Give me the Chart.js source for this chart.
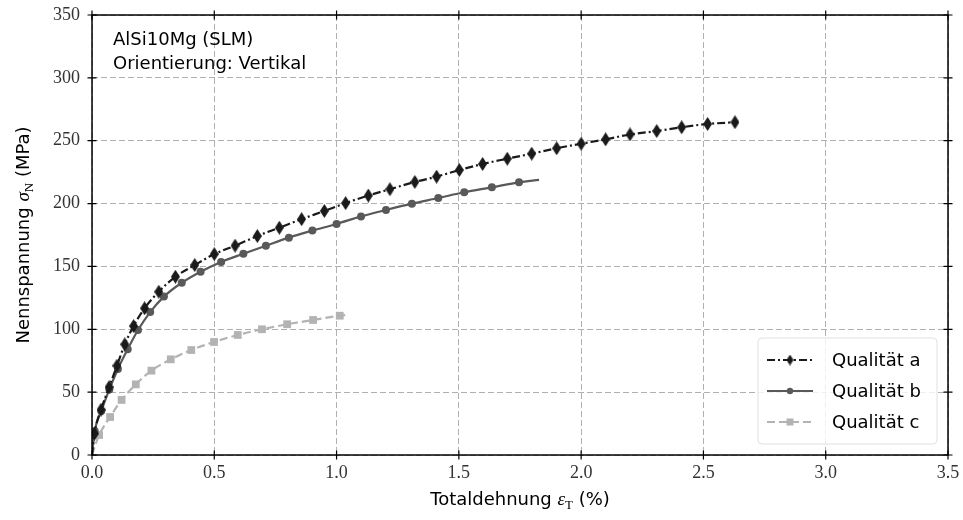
<!DOCTYPE html>
<html>
<head>
<meta charset="utf-8">
<script src="https://cdn.jsdelivr.net/npm/chart.js@4.4.0/dist/chart.umd.min.js"></script>
<style>
  html, body { margin: 0; padding: 0; background: #fff; }
</style>
</head>
<body>
<canvas id="chart" width="963" height="520"></canvas>
<script>
// tick values
var xTicks = [0, 0.5, 1.0, 1.5, 2.0, 2.5, 3.0, 3.5];
var yTicks = [0, 50, 100, 150, 200, 250, 300, 350];

// Qualität a
var aStrain = [0, 0.010, 0.037, 0.070, 0.102, 0.134, 0.170, 0.215, 0.273, 0.341, 0.420, 0.500, 0.585, 0.676, 0.766, 0.857, 0.950, 1.037, 1.130, 1.218, 1.320, 1.409, 1.502, 1.597, 1.698, 1.798, 1.900, 2.000, 2.100, 2.200, 2.309, 2.411, 2.517, 2.629];
var aStress = [0, 17, 36, 54, 71, 88, 102.6, 116.7, 129.9, 141.8, 151.1, 159.8, 166.5, 174.2, 180.8, 187.6, 194.1, 200.4, 206.4, 211.4, 217.2, 221.4, 226.7, 231.5, 235.7, 239.7, 244.0, 247.6, 251.1, 255.0, 257.7, 260.7, 263.3, 264.7];

// Qualität b
var bStrain = [0, 0.011, 0.038, 0.071, 0.106, 0.146, 0.188, 0.238, 0.294, 0.367, 0.444, 0.528, 0.619, 0.711, 0.805, 0.901, 1.000, 1.100, 1.202, 1.308, 1.416, 1.522, 1.635, 1.746, 1.828];
var bStress = [0, 19, 35, 52.2, 68.4, 84.1, 99.4, 113.7, 126.0, 137.0, 145.8, 153.6, 160.1, 166.5, 172.9, 178.5, 183.8, 189.8, 194.9, 199.9, 204.4, 209.0, 212.9, 216.9, 218.8];

// Qualität c
var cStrain = [0, 0.029, 0.074, 0.121, 0.179, 0.243, 0.322, 0.406, 0.499, 0.596, 0.695, 0.798, 0.904, 1.013, 1.050];
var cStress = [0, 15.9, 30.2, 43.8, 56.2, 67.1, 76.1, 83.5, 89.9, 95.5, 100.0, 104.0, 107.4, 110.8, 111.5];

var labels = ["Qualität a", "Qualität b", "Qualität c"];

var colA = "#1a1a1a", colB = "#595959", colC = "#b3b3b3";
var sansFont = "'DejaVu Sans', sans-serif";
var serifFont = "'Liberation Serif', serif";

var toPoints = function (xs, ys) {
    return xs.map(function (x, i) { return { x: x, y: ys[i] }; });
};

// thin diamond marker
var diamondImage = function (w, h, color) {
    var c = document.createElement("canvas");
    c.width = w; c.height = h;
    var g = c.getContext("2d");
    g.fillStyle = color;
    g.beginPath();
    g.moveTo(w / 2, 0);
    g.lineTo(w, h / 2);
    g.lineTo(w / 2, h);
    g.lineTo(0, h / 2);
    g.closePath();
    g.fill();
    return c;
};
var diamond = diamondImage(9, 14, colA);
var diamondSmall = diamondImage(7, 11, colA);

var markerRadius = function (r) {
    return function (ctx) {
        var last = ctx.dataset.data.length - 1;
        if (ctx.dataIndex === 0) return 0;
        if (ctx.dataset.openEnd && ctx.dataIndex === last) return 0;
        return r;
    };
};

var drawParts = function (ctx, parts, x, y, align) {
    var total = 0;
    parts.forEach(function (p) { ctx.font = p.font; total += ctx.measureText(p.text).width; });
    var cx = align === "center" ? x - total / 2 : x;
    ctx.textAlign = "left";
    ctx.textBaseline = "alphabetic";
    parts.forEach(function (p) {
        ctx.font = p.font;
        ctx.fillText(p.text, cx, y + (p.dy || 0));
        cx += ctx.measureText(p.text).width;
    });
};

var framePlugin = {
    id: "frame",
    afterDraw: function (chart) {
        var ctx = chart.ctx, area = chart.chartArea;
        var xs = chart.scales.x, ys = chart.scales.y;
        ctx.save();
        ctx.strokeStyle = "#000";
        ctx.lineWidth = 1.5;
        ctx.strokeRect(area.left, area.top, area.right - area.left, area.bottom - area.top);
        ctx.lineWidth = 1.2;
        ctx.beginPath();
        xTicks.forEach(function (v) {
            var px = xs.getPixelForValue(v);
            ctx.moveTo(px, area.bottom - 4.5); ctx.lineTo(px, area.bottom + 4.5);
            ctx.moveTo(px, area.top - 4.5); ctx.lineTo(px, area.top + 4.5);
        });
        yTicks.forEach(function (v) {
            var py = ys.getPixelForValue(v);
            ctx.moveTo(area.left - 4.5, py); ctx.lineTo(area.left + 4.5, py);
            ctx.moveTo(area.right - 4.5, py); ctx.lineTo(area.right + 4.5, py);
        });
        ctx.stroke();

        // legend
        var lx = 758, ly = 338, lw = 179, lh = 106;
        ctx.fillStyle = "rgba(255,255,255,0.8)";
        ctx.strokeStyle = "rgba(204,204,204,0.6)";
        ctx.lineWidth = 1;
        ctx.beginPath();
        ctx.roundRect(lx, ly, lw, lh, 4);
        ctx.fill();
        ctx.stroke();

        var rows = [360, 391, 422];
        var styles = [
            { color: colA, dash: [8, 3, 2, 3] },
            { color: colB, dash: [] },
            { color: colC, dash: [8, 4] }
        ];
        rows.forEach(function (ry, i) {
            var st = styles[i];
            ctx.strokeStyle = st.color;
            ctx.lineWidth = 2;
            ctx.setLineDash(st.dash);
            ctx.beginPath();
            ctx.moveTo(767, ry); ctx.lineTo(813, ry);
            ctx.stroke();
            ctx.setLineDash([]);
            ctx.fillStyle = st.color;
            if (i === 0) {
                ctx.drawImage(diamondSmall, 790 - 3.5, ry - 5.5);
            } else if (i === 1) {
                ctx.beginPath(); ctx.arc(790, ry, 3.2, 0, Math.PI * 2); ctx.fill();
            } else {
                ctx.fillRect(786.5, ry - 3.5, 7, 7);
            }
            ctx.fillStyle = "#000";
            ctx.font = "18px " + sansFont;
            ctx.textAlign = "left";
            ctx.textBaseline = "middle";
            ctx.fillText(labels[i], 832, ry + 1);
        });

        // annotation
        ctx.fillStyle = "#000";
        ctx.font = "18px " + sansFont;
        ctx.textAlign = "left";
        ctx.textBaseline = "alphabetic";
        ctx.fillText("AlSi10Mg (SLM)", 113, 45);
        ctx.fillText("Orientierung: Vertikal", 113, 69);

        // axis titles
        drawParts(ctx, [
            { text: "Totaldehnung ", font: "18px " + sansFont },
            { text: "ε", font: "italic 19px " + serifFont },
            { text: "T", font: "13px " + serifFont, dy: 4 },
            { text: " (%)", font: "18px " + sansFont }
        ], (area.left + area.right) / 2, 505, "center");

        ctx.translate(29, (area.top + area.bottom) / 2);
        ctx.rotate(-Math.PI / 2);
        drawParts(ctx, [
            { text: "Nennspannung ", font: "18px " + sansFont },
            { text: "σ", font: "italic 19px " + serifFont },
            { text: "N", font: "13px " + serifFont, dy: 4 },
            { text: " (MPa)", font: "18px " + sansFont }
        ], 0, 0, "center");
        ctx.restore();
    }
};

var gridOpts = {
    color: "#b0b0b0",
    lineWidth: 1,
    drawTicks: false
};

new Chart(document.getElementById("chart"), {
    type: "line",
    data: {
        datasets: [
            {
                label: labels[0],
                data: toPoints(aStrain, aStress),
                borderColor: colA,
                borderWidth: 2.2,
                borderDash: [8, 3, 2, 3],
                pointStyle: diamond,
                pointRadius: markerRadius(5),
                pointBackgroundColor: colA,
                cubicInterpolationMode: "monotone"
            },
            {
                label: labels[1],
                data: toPoints(bStrain, bStress),
                openEnd: true,
                borderColor: colB,
                borderWidth: 2.2,
                pointStyle: "circle",
                pointRadius: markerRadius(4),
                pointBackgroundColor: colB,
                pointBorderWidth: 0,
                cubicInterpolationMode: "monotone"
            },
            {
                label: labels[2],
                data: toPoints(cStrain, cStress),
                openEnd: true,
                borderColor: colC,
                borderWidth: 2.2,
                borderDash: [8, 4],
                pointStyle: "rect",
                pointRadius: markerRadius(5.5),
                pointBackgroundColor: colC,
                pointBorderWidth: 0,
                cubicInterpolationMode: "monotone"
            }
        ]
    },
    options: {
        responsive: false,
        animation: false,
        layout: { padding: { top: 15, right: 15, left: 0, bottom: 0 } },
        plugins: {
            legend: { display: false },
            tooltip: { enabled: false }
        },
        scales: {
            x: {
                type: "linear",
                min: 0,
                max: 3.5,
                afterBuildTicks: function (s) { s.ticks = xTicks.map(function (v) { return { value: v }; }); },
                afterFit: function (s) { s.height = 65; s.paddingLeft = 0; s.paddingRight = 0; },
                grid: gridOpts,
                border: { display: false, dash: [6, 3] },
                ticks: {
                    padding: 7,
                    color: "#333",
                    font: { family: serifFont, size: 18 },
                    maxRotation: 0,
                    callback: function (v) { return v.toFixed(1); }
                }
            },
            y: {
                type: "linear",
                min: 0,
                max: 350,
                afterBuildTicks: function (s) { s.ticks = yTicks.map(function (v) { return { value: v }; }); },
                afterFit: function (s) { s.width = 92; s.paddingTop = 0; s.paddingBottom = 0; },
                grid: gridOpts,
                border: { display: false, dash: [6, 3] },
                ticks: {
                    padding: 12,
                    color: "#333",
                    font: { family: serifFont, size: 18 },
                    callback: function (v) { return String(v); }
                }
            }
        }
    },
    plugins: [framePlugin]
});
</script>
</body>
</html>
